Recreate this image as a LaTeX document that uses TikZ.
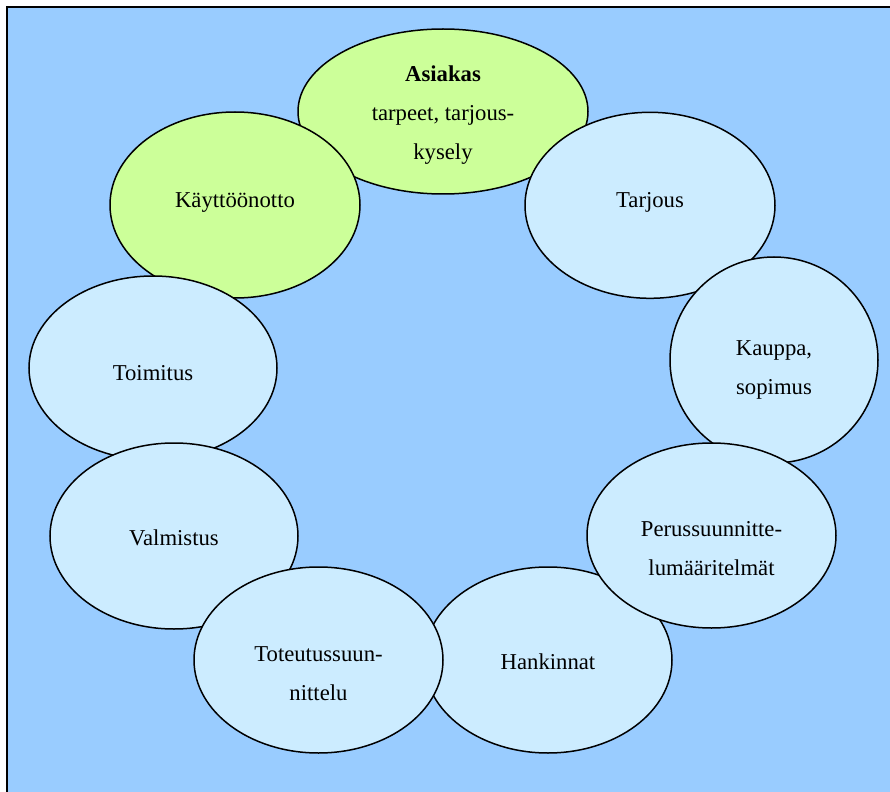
\documentclass[tikz,border=0pt]{standalone}
\usepackage{fontspec}
\setmainfont{Liberation Serif}
\usetikzlibrary{shapes.geometric}
\definecolor{skyback}{HTML}{99CCFF}
\definecolor{palebubble}{HTML}{CCECFF}
\definecolor{limebubble}{HTML}{CCFF99}
\begin{document}
\begin{tikzpicture}[x=0.5pt,y=-0.5pt,
  bubble/.style={ellipse,draw=black,line width=0.75pt,fill=palebubble,inner sep=0pt,
    align=center,text depth=0pt,font=\fontsize{11.35}{19.5}\selectfont},
  greenbubble/.style={bubble,fill=limebubble}]
  \useasboundingbox (0,0) rectangle (890,792);
  \clip (0,0) rectangle (890,792);
  \draw [line width=1pt,fill=skyback] (7,7) rectangle (900,800);

  % stacking order as in the figure
  \node [greenbubble,minimum width=145pt,minimum height=82.5pt,text height=48pt] (asiakas) at (443,111.5) {\textbf{Asiakas}\\tarpeet, tarjous-\\kysely};
  \node [greenbubble,minimum width=125pt,minimum height=93pt,text height=2pt] (kayttoonotto) at (235,205) {Käyttöönotto};
  \node [bubble,minimum width=124pt,minimum height=92pt,text height=12pt] (toimitus) at (153,368) {Toimitus};
  \node [bubble,minimum width=124pt,minimum height=93pt,text height=9pt] (valmistus) at (174,536) {Valmistus};
  \node [bubble,minimum width=124pt,minimum height=93pt,text height=9pt] (hankinnat) at (548,660) {Hankinnat};
  \node [bubble,minimum width=124.5pt,minimum height=93pt,text height=40pt] (toteutus) at (318.5,660) {Toteutussuun-\\nittelu};
  \node [bubble,minimum width=125pt,minimum height=93pt,text height=2pt] (tarjous) at (650,205.3) {Tarjous};
  \node [bubble,minimum width=104pt,minimum height=103pt,text height=34pt] (kauppa) at (774,360) {Kauppa,\\sopimus};
  \node [bubble,minimum width=124.5pt,minimum height=92.5pt,text height=39.5pt] (perus) at (711.5,535.5) {Perussuunnitte-\\lumääritelmät};
\end{tikzpicture}
\end{document}
